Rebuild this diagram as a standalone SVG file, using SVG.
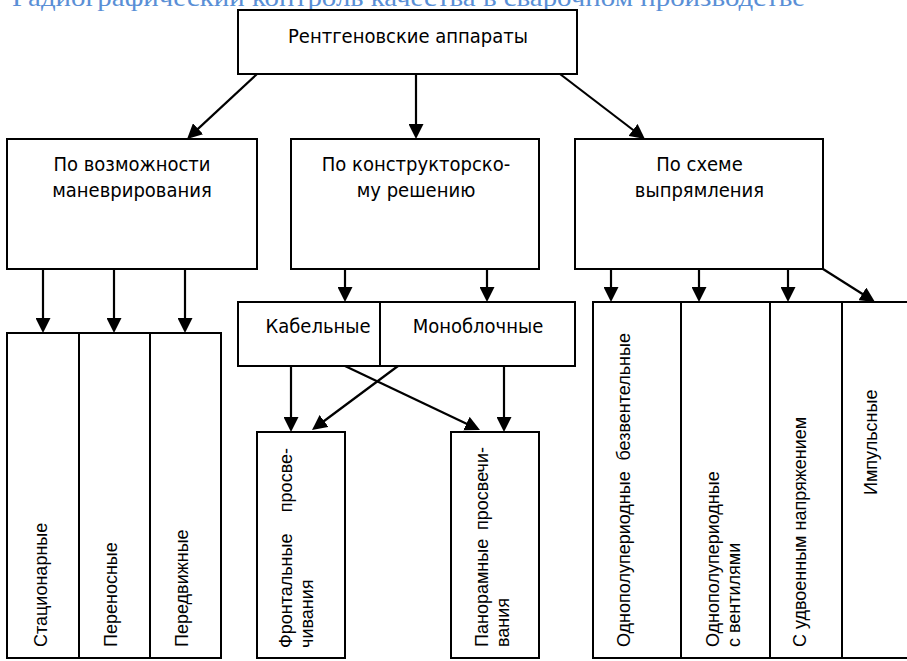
<svg xmlns="http://www.w3.org/2000/svg" width="907" height="661" viewBox="0 0 907 661">
<style>
.box{fill:#fff;stroke:#000;stroke-width:2}
.t{font-family:"DejaVu Sans Condensed","DejaVu Sans",sans-serif;font-stretch:condensed;font-size:20px;fill:#000}
.r{font-family:"Liberation Sans",Arial,sans-serif;font-size:18px;fill:#000}
.c{stroke:#000;stroke-width:2.2;fill:none;marker-end:url(#ah)}
.hdr{font-family:"Liberation Serif","Times New Roman",serif;font-size:26px;fill:#5a8fd6}
</style>
<defs>
<marker id="ah" viewBox="0 0 10 10" markerUnits="userSpaceOnUse" markerWidth="15" markerHeight="15" refX="6.7" refY="5" orient="auto">
<path d="M0,0 L10,5 L0,10 z" fill="#000"/>
</marker>
</defs>
<rect width="907" height="661" fill="#fff"/>
<text class="hdr" x="12" y="6" textLength="793" lengthAdjust="spacingAndGlyphs">Радиографический контроль качества в сварочном производстве</text>

<g id="connectors">
<line class="c" x1="257" y1="74" x2="190.7" y2="135.6"/>
<line class="c" x1="416" y1="74" x2="416" y2="134"/>
<line class="c" x1="560" y1="74" x2="641" y2="136"/>
<line class="c" x1="43" y1="269" x2="43" y2="328"/>
<line class="c" x1="114" y1="269" x2="114" y2="328"/>
<line class="c" x1="185" y1="269" x2="185" y2="328"/>
<line class="c" x1="345" y1="269" x2="345" y2="297"/>
<line class="c" x1="487" y1="269" x2="487" y2="297"/>
<line class="c" x1="611" y1="269" x2="611" y2="297"/>
<line class="c" x1="699" y1="269" x2="699" y2="297"/>
<line class="c" x1="788" y1="269" x2="788" y2="297"/>
<line class="c" x1="823" y1="269" x2="870.8" y2="299.3"/>
<line class="c" x1="291" y1="366" x2="291" y2="427"/>
<line class="c" x1="504" y1="366" x2="504" y2="427"/>
<line class="c" x1="345" y1="366" x2="475.5" y2="427.9"/>
<line class="c" x1="398" y1="366" x2="316" y2="427"/>
</g>

<g id="root">
<rect class="box" x="238" y="10" width="339" height="64"/>
<text class="t" x="408" y="43" text-anchor="middle">Рентгеновские аппараты</text>
</g>

<g id="manoeuvre">
<rect class="box" x="7" y="139" width="250" height="130"/>
<text class="t" x="132" y="171" text-anchor="middle">По возможности</text>
<text class="t" x="132" y="197" text-anchor="middle">маневрирования</text>
</g>
<g id="design">
<rect class="box" x="291" y="139" width="248" height="130"/>
<text class="t" x="416" y="171" text-anchor="middle">По конструкторско-</text>
<text class="t" x="416" y="197" text-anchor="middle">му решению</text>
</g>
<g id="rectify">
<rect class="box" x="575" y="139" width="248" height="130"/>
<text class="t" x="699.5" y="171" text-anchor="middle">По схеме</text>
<text class="t" x="699.5" y="197" text-anchor="middle">выпрямления</text>
</g>

<g id="stationary">
<rect class="box" x="7" y="333" width="72" height="325"/>
<text class="r" transform="translate(47,647) rotate(-90)">Стационарные</text>
</g>
<g id="portable">
<rect class="box" x="79" y="333" width="71" height="325"/>
<text class="r" transform="translate(117,647) rotate(-90)">Переносные</text>
</g>
<g id="mobile">
<rect class="box" x="150" y="333" width="71" height="325"/>
<text class="r" transform="translate(188,647) rotate(-90)">Передвижные</text>
</g>

<g id="cable">
<rect class="box" x="238" y="302" width="144" height="64"/>
<text class="t" x="318" y="333" text-anchor="middle">Кабельные</text>
</g>
<g id="monoblock">
<rect class="box" x="380" y="302" width="195" height="64"/>
<text class="t" x="478" y="333" text-anchor="middle">Моноблочные</text>
</g>

<g id="frontal">
<rect class="box" x="257" y="432" width="88" height="226"/>
<text class="r" transform="translate(292,648) rotate(-90)"><tspan x="0" y="0">Фронтальные</tspan><tspan x="200" y="0" text-anchor="end">просве-</tspan><tspan x="0" y="21">чивания</tspan></text>
</g>
<g id="panoramic">
<rect class="box" x="451" y="432" width="88" height="226"/>
<text class="r" transform="translate(488,647) rotate(-90)"><tspan x="0" y="0">Панорамные</tspan><tspan x="200" y="0" text-anchor="end">просвечи-</tspan><tspan x="0" y="21">вания</tspan></text>
</g>

<g id="halfwave-noval">
<rect class="box" x="593" y="302" width="88" height="356"/>
<text class="r" transform="translate(630,647) rotate(-90)"><tspan x="0" y="0">Однополупериодные</tspan><tspan x="314" y="0" text-anchor="end">безвентельные</tspan></text>
</g>
<g id="halfwave-val">
<rect class="box" x="681" y="302" width="89" height="356"/>
<text class="r" transform="translate(719,647) rotate(-90)"><tspan x="0" y="0">Однополупериодные</tspan><tspan x="0" y="21">с вентилями</tspan></text>
</g>
<g id="doubling">
<rect class="box" x="770" y="302" width="72" height="356"/>
<text class="r" transform="translate(806,647) rotate(-90)">С удвоенным напряжением</text>
</g>
<g id="pulse">
<rect class="box" x="842" y="302" width="80" height="356"/>
<text class="r" transform="translate(877,495) rotate(-90)">Импульсные</text>
</g>
</svg>
